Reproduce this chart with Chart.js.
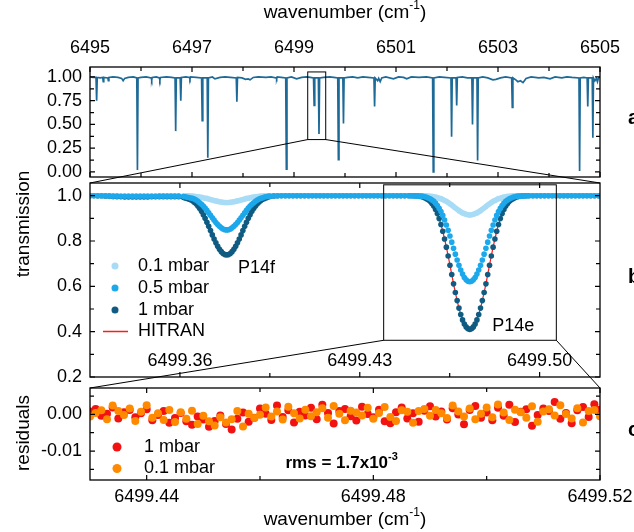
<!DOCTYPE html>
<html>
<head>
<meta charset="utf-8">
<script src="https://cdn.jsdelivr.net/npm/chart.js@4.4.1/dist/chart.umd.min.js"></script>
<style>
  html, body { margin: 0; padding: 0; background: #fff; }
  #fig { position: relative; width: 634px; height: 532px; overflow: hidden; background: #fff; }
  #fig canvas { position: absolute; left: 0; }
</style>
</head>
<body>
<div id="fig">
  <canvas id="chartA" width="634" height="182"></canvas>
  <canvas id="chartB" width="634" height="215"></canvas>
  <canvas id="chartC" width="634" height="149"></canvas>
  <canvas id="overlay" width="634" height="532" style="pointer-events:none"></canvas>
</div>
<script>
'use strict';

// ---- panel a: survey spectrum (wavenumber, transmission) ----
const specWn = [6495.00, 6495.06, 6495.118, 6495.13, 6495.142, 6495.20, 6495.25, 6495.26, 6495.27, 6495.35,
  6495.36, 6495.37, 6495.45, 6495.55, 6495.62, 6495.65, 6495.68, 6495.75, 6495.85, 6495.918,
  6495.93, 6495.942, 6496.00, 6496.10, 6496.20, 6496.21, 6496.22, 6496.30, 6496.36, 6496.37,
  6496.38, 6496.50, 6496.60, 6496.668, 6496.68, 6496.692, 6496.768, 6496.78, 6496.792, 6496.88,
  6496.95, 6496.96, 6496.97, 6497.08, 6497.188, 6497.20, 6497.212, 6497.298, 6497.31, 6497.322,
  6497.40, 6497.45, 6497.55, 6497.65, 6497.75, 6497.868, 6497.88, 6497.892, 6497.98, 6498.05,
  6498.10, 6498.14, 6498.20, 6498.30, 6498.45, 6498.55, 6498.65, 6498.66, 6498.67, 6498.75,
  6498.838, 6498.85, 6498.862, 6498.95, 6499.05, 6499.15, 6499.25, 6499.32, 6499.383, 6499.395,
  6499.407, 6499.478, 6499.49, 6499.502, 6499.58, 6499.70, 6499.78, 6499.858, 6499.87, 6499.882,
  6499.958, 6499.97, 6499.982, 6500.05, 6500.15, 6500.25, 6500.35, 6500.45, 6500.568, 6500.58,
  6500.592, 6500.64, 6500.66, 6500.69, 6500.72, 6500.80, 6500.95, 6501.05, 6501.15, 6501.21,
  6501.30, 6501.45, 6501.60, 6501.718, 6501.73, 6501.742, 6501.85, 6501.95, 6502.078, 6502.09,
  6502.102, 6502.178, 6502.19, 6502.202, 6502.30, 6502.40, 6502.488, 6502.50, 6502.512, 6502.588,
  6502.60, 6502.612, 6502.70, 6502.80, 6502.90, 6502.96, 6503.05, 6503.15, 6503.268, 6503.28,
  6503.292, 6503.35, 6503.39, 6503.44, 6503.49, 6503.55, 6503.65, 6503.80, 6503.90, 6504.02,
  6504.12, 6504.25, 6504.35, 6504.45, 6504.588, 6504.60, 6504.612, 6504.68, 6504.748, 6504.76,
  6504.772, 6504.848, 6504.86, 6504.872, 6504.90, 6504.93, 6504.95, 6504.97, 6505.00];
const specT = [1.000, 0.995, 0.995, 0.75, 0.995, 0.99, 0.995, 0.95, 0.995, 0.99,
  0.96, 0.995, 1.0, 0.995, 0.985, 0.96, 0.985, 0.995, 1.0, 0.99,
  0.02, 0.99, 0.995, 1.0, 0.99, 0.97, 0.995, 1.0, 0.99, 0.97,
  0.995, 1.0, 0.995, 0.99, 0.43, 0.99, 0.99, 0.75, 0.995, 1.0,
  0.995, 0.98, 1.0, 0.995, 0.99, 0.54, 0.99, 0.99, 0.15, 0.99,
  1.0, 0.98, 0.995, 1.0, 0.995, 0.99, 0.74, 0.995, 0.99, 0.975,
  0.98, 0.97, 0.995, 1.0, 0.995, 1.0, 0.99, 0.98, 1.0, 0.995,
  0.99, 0.03, 0.99, 1.0, 0.98, 0.995, 1.0, 0.995, 0.99, 0.70,
  0.99, 0.99, 0.40, 0.99, 0.995, 1.0, 0.995, 0.99, 0.13, 0.99,
  0.99, 0.51, 0.99, 0.995, 1.0, 0.99, 1.0, 0.995, 0.99, 0.69,
  0.99, 0.96, 0.985, 0.95, 0.99, 1.0, 0.98, 1.0, 0.995, 0.98,
  1.0, 0.995, 1.0, 0.99, 0.00, 0.99, 1.0, 0.995, 0.99, 0.37,
  0.99, 0.99, 0.70, 0.995, 1.0, 0.99, 0.99, 0.50, 0.99, 0.99,
  0.12, 0.99, 1.0, 0.99, 0.97, 0.975, 0.99, 1.0, 0.99, 0.68,
  0.99, 0.97, 0.95, 0.96, 0.94, 0.985, 1.0, 0.99, 0.995, 0.98,
  1.0, 0.99, 1.0, 0.995, 0.99, 0.01, 0.99, 0.995, 0.99, 0.69,
  0.99, 0.99, 0.36, 0.99, 0.96, 0.985, 0.95, 0.99, 1.0];

// ---- panel b: P14f / P14e profiles ----
const wnB = [
  // flat
  6499.3250, 6499.3265, 6499.3280, 6499.3295, 6499.3310, 6499.3325, 6499.3340, 6499.3355, 6499.3370, 6499.3385,
  6499.3400, 6499.3415, 6499.3430, 6499.3445, 6499.3460, 6499.3475, 6499.3490, 6499.3505, 6499.3520, 6499.3535,
  6499.3550, 6499.3565, 6499.3580, 6499.3595,
  // P14f
  6499.3614, 6499.3621, 6499.3628, 6499.3635, 6499.3642, 6499.3649, 6499.3656, 6499.3663, 6499.3670, 6499.3677,
  6499.3684, 6499.3691, 6499.3698, 6499.3705, 6499.3712, 6499.3719, 6499.3726, 6499.3733, 6499.3740, 6499.3747,
  6499.3754, 6499.3761, 6499.3768, 6499.3775, 6499.3782, 6499.3789, 6499.3796, 6499.3803, 6499.3810, 6499.3817,
  6499.3824, 6499.3831, 6499.3838, 6499.3845, 6499.3852, 6499.3859, 6499.3866, 6499.3873, 6499.3880, 6499.3887,
  6499.3894, 6499.3901, 6499.3908, 6499.3915, 6499.3922, 6499.3929, 6499.3936, 6499.3943, 6499.3950,
  // flat
  6499.3965, 6499.3980, 6499.3995, 6499.4010, 6499.4025, 6499.4040, 6499.4055, 6499.4070, 6499.4085, 6499.4100,
  6499.4115, 6499.4130, 6499.4145, 6499.4160, 6499.4175, 6499.4190, 6499.4205, 6499.4220, 6499.4235, 6499.4250,
  6499.4265, 6499.4280, 6499.4295, 6499.4310, 6499.4325, 6499.4340, 6499.4355, 6499.4370, 6499.4385, 6499.4400,
  6499.4415, 6499.4430, 6499.4445, 6499.4460, 6499.4475, 6499.4490,
  // P14e
  6499.4497, 6499.4504, 6499.4511, 6499.4518, 6499.4525, 6499.4532, 6499.4539, 6499.4546, 6499.4553, 6499.4560,
  6499.4567, 6499.4574, 6499.4581, 6499.4588, 6499.4595, 6499.4602, 6499.4609, 6499.4616, 6499.4623, 6499.4630,
  6499.4637, 6499.4644, 6499.4651, 6499.4658, 6499.4665, 6499.4672, 6499.4679, 6499.4686, 6499.4693, 6499.4700,
  6499.4707, 6499.4714, 6499.4721, 6499.4728, 6499.4735, 6499.4742, 6499.4749, 6499.4756, 6499.4763, 6499.4770,
  6499.4777, 6499.4784, 6499.4791, 6499.4798, 6499.4805, 6499.4812, 6499.4819, 6499.4826, 6499.4833, 6499.4840,
  6499.4847, 6499.4854, 6499.4861, 6499.4868, 6499.4875, 6499.4882, 6499.4889, 6499.4896, 6499.4903, 6499.4910,
  6499.4917, 6499.4924, 6499.4931, 6499.4938, 6499.4945, 6499.4952, 6499.4959,
  // flat
  6499.4974, 6499.4989, 6499.5004, 6499.5019, 6499.5034, 6499.5049, 6499.5064, 6499.5079, 6499.5094, 6499.5109,
  6499.5124, 6499.5139, 6499.5154, 6499.5169, 6499.5184, 6499.5199, 6499.5214, 6499.5229, 6499.5244];

const t01 = [
  1, 1, 1, 1, 1, 1, 1, 1, 1, 1, 1, 1, 1, 1, 1, 1, 1, 1, 1, 1, 1, 1, 1, 1,
  1.000, 0.999, 0.999, 0.999, 0.998, 0.998, 0.997, 0.996, 0.995, 0.994, 0.993, 0.991, 0.989, 0.988, 0.985, 0.983,
  0.981, 0.979, 0.977, 0.975, 0.973, 0.972, 0.971, 0.970, 0.970, 0.970, 0.971, 0.972, 0.973, 0.975, 0.977, 0.979,
  0.981, 0.983, 0.985, 0.988, 0.989, 0.991, 0.993, 0.994, 0.995, 0.996, 0.997, 0.998, 0.998, 0.999, 0.999, 0.999, 1.000,
  1, 1, 1, 1, 1, 1, 1, 1, 1, 1, 1, 1, 1, 1, 1, 1, 1, 1, 1, 1, 1, 1, 1, 1, 1, 1, 1, 1, 1, 1, 1, 1, 1, 1, 1, 1,
  1, 1, 1, 1, 1, 1, 1, 0.999, 0.999, 0.999, 0.998, 0.997, 0.997, 0.995, 0.994, 0.992, 0.989, 0.987, 0.983, 0.979,
  0.975, 0.970, 0.964, 0.959, 0.952, 0.946, 0.940, 0.934, 0.929, 0.924, 0.921, 0.918, 0.916, 0.915, 0.916, 0.918,
  0.921, 0.924, 0.929, 0.934, 0.940, 0.946, 0.952, 0.959, 0.964, 0.970, 0.975, 0.979, 0.983, 0.987, 0.989, 0.992,
  0.994, 0.995, 0.997, 0.997, 0.998, 0.999, 0.999, 0.999, 1, 1, 1, 1, 1, 1, 1,
  1, 1, 1, 1, 1, 1, 1, 1, 1, 1, 1, 1, 1, 1, 1, 1, 1, 1, 1];

const t05 = [
  1, 1, 1, 1, 0.999, 0.999, 0.998, 0.998, 0.997, 0.997, 0.997, 0.997, 0.997, 0.997, 0.997, 0.997, 0.997, 0.997,
  0.998, 0.998, 0.998, 0.998, 0.998, 0.998,
  0.996, 0.995, 0.993, 0.992, 0.990, 0.989, 0.985, 0.981, 0.975, 0.969, 0.962, 0.954, 0.945, 0.935, 0.924, 0.914,
  0.903, 0.892, 0.882, 0.873, 0.865, 0.858, 0.853, 0.850, 0.849, 0.850, 0.853, 0.858, 0.865, 0.873, 0.882, 0.892,
  0.903, 0.914, 0.924, 0.935, 0.945, 0.954, 0.962, 0.969, 0.975, 0.981, 0.985, 0.989, 0.991, 0.994, 0.995, 0.997, 0.998,
  0.999, 1, 1, 1, 1, 1, 1, 1, 1, 1, 1, 1, 1, 1, 1, 1, 1, 1, 1, 1, 1, 1, 1, 1, 1, 1, 1, 1, 1, 1, 1, 1, 1, 1, 1, 1,
  1, 1, 1, 0.999, 0.999, 0.998, 0.998, 0.997, 0.995, 0.993, 0.990, 0.986, 0.981, 0.975, 0.967, 0.957, 0.944, 0.930,
  0.913, 0.893, 0.871, 0.847, 0.822, 0.795, 0.768, 0.742, 0.716, 0.693, 0.672, 0.654, 0.639, 0.629, 0.622, 0.620,
  0.622, 0.629, 0.639, 0.654, 0.672, 0.693, 0.716, 0.742, 0.768, 0.795, 0.822, 0.847, 0.871, 0.893, 0.913, 0.930,
  0.944, 0.957, 0.967, 0.975, 0.981, 0.986, 0.990, 0.993, 0.995, 0.997, 0.998, 0.998, 0.999, 0.999, 1, 1, 1,
  1, 1, 1, 1, 1, 1, 1, 1, 1, 1, 1, 1, 1, 1, 1, 1, 1, 1, 1];

const t1 = [
  1, 1, 0.999, 0.999, 0.998, 0.997, 0.996, 0.995, 0.995, 0.994, 0.994, 0.994, 0.994, 0.994, 0.994, 0.994,
  0.995, 0.995, 0.995, 0.995, 0.995, 0.995, 0.995, 0.995,
  0.992, 0.990, 0.988, 0.985, 0.982, 0.978, 0.971, 0.964, 0.955, 0.944, 0.931, 0.916, 0.900, 0.883, 0.865, 0.846,
  0.827, 0.809, 0.792, 0.777, 0.764, 0.753, 0.745, 0.740, 0.739, 0.740, 0.745, 0.753, 0.764, 0.777, 0.792, 0.809,
  0.827, 0.846, 0.865, 0.883, 0.900, 0.916, 0.931, 0.944, 0.955, 0.964, 0.972, 0.979, 0.984, 0.988, 0.991, 0.994, 0.996,
  0.998, 0.999, 1, 1, 1, 1, 1, 1, 1, 1, 1, 1, 1, 1, 1, 1, 1, 1, 1, 1, 1, 1, 1, 1, 1, 1, 1, 1, 1, 1, 1, 1, 1, 1, 1, 1,
  1, 1, 0.999, 0.999, 0.998, 0.997, 0.996, 0.994, 0.991, 0.987, 0.982, 0.975, 0.966, 0.954, 0.939, 0.921, 0.899,
  0.873, 0.843, 0.809, 0.773, 0.734, 0.693, 0.652, 0.611, 0.573, 0.537, 0.504, 0.476, 0.452, 0.434, 0.421, 0.413,
  0.410, 0.413, 0.421, 0.434, 0.452, 0.476, 0.504, 0.537, 0.573, 0.611, 0.652, 0.693, 0.734, 0.773, 0.809, 0.843,
  0.873, 0.899, 0.921, 0.939, 0.954, 0.966, 0.975, 0.982, 0.987, 0.991, 0.994, 0.996, 0.997, 0.998, 0.999, 0.999, 1, 1,
  1, 1, 1, 1, 1, 1, 1, 1, 1, 1, 1, 1, 1, 1, 1, 1, 1, 1, 1];

const hitranWn = [6499.4504, 6499.4518, 6499.4532, 6499.4546, 6499.4560, 6499.4574, 6499.4588, 6499.4602, 6499.4616,
  6499.4630, 6499.4644, 6499.4658, 6499.4672, 6499.4686, 6499.4700, 6499.4714, 6499.4728, 6499.4742, 6499.4756,
  6499.4770, 6499.4784, 6499.4798, 6499.4812, 6499.4826, 6499.4840, 6499.4854, 6499.4868, 6499.4882, 6499.4896,
  6499.4910, 6499.4924, 6499.4938, 6499.4952];
const hitranT = [1.000, 0.999, 0.997, 0.994, 0.987, 0.975, 0.954, 0.921, 0.873, 0.809, 0.734, 0.652, 0.573, 0.504,
  0.452, 0.421, 0.410, 0.421, 0.452, 0.504, 0.573, 0.652, 0.734, 0.809, 0.873, 0.921, 0.954, 0.975, 0.987, 0.994,
  0.997, 0.999, 1.000];

// ---- panel c: fit residuals ----
const wnC = [6499.430, 6499.431, 6499.432, 6499.433, 6499.434, 6499.435, 6499.436, 6499.437, 6499.438, 6499.439,
  6499.440, 6499.441, 6499.442, 6499.443, 6499.444, 6499.445, 6499.446, 6499.447, 6499.448, 6499.449,
  6499.450, 6499.451, 6499.452, 6499.453, 6499.454, 6499.455, 6499.456, 6499.457, 6499.458, 6499.459,
  6499.460, 6499.461, 6499.462, 6499.463, 6499.464, 6499.465, 6499.466, 6499.467, 6499.468, 6499.469,
  6499.470, 6499.471, 6499.472, 6499.473, 6499.474, 6499.475, 6499.476, 6499.477, 6499.478, 6499.479,
  6499.480, 6499.481, 6499.482, 6499.483, 6499.484, 6499.485, 6499.486, 6499.487, 6499.488, 6499.489,
  6499.490, 6499.491, 6499.492, 6499.493, 6499.494, 6499.495, 6499.496, 6499.497, 6499.498, 6499.499,
  6499.500, 6499.501, 6499.502, 6499.503, 6499.504, 6499.505, 6499.506, 6499.507, 6499.508, 6499.509,
  6499.510, 6499.511, 6499.512, 6499.513, 6499.514, 6499.515, 6499.516, 6499.517, 6499.518, 6499.519,
  6499.520];
const res1 = [0.0008, 0.0015, -0.0004, 0.0002, 0.0019, -0.0011, 0.0006, 0.0012, -0.0008, 0.0003,
  0.0014, -0.0016, -0.0002, 0.0009, -0.0023, -0.0010, 0.0004, -0.0019, -0.0028, -0.0006,
  -0.0014, -0.0034, -0.0018, -0.0003, -0.0026, -0.0041, -0.0012, 0.0005, -0.0020, -0.0009,
  0.0016, 0.0002, -0.0015, 0.0024, -0.0007, 0.0011, -0.0022, 0.0007, -0.0003, 0.0018,
  -0.0013, 0.0026, 0.0004, -0.0025, 0.0009, 0.0015, -0.0005, -0.0017, 0.0021, 0.0001,
  -0.0008, 0.0013, -0.0019, -0.0024, 0.0006, 0.0019, -0.0011, 0.0003, -0.0020, 0.0010,
  0.0022, -0.0006, 0.0008, -0.0014, 0.0017, 0.0000, -0.0027, 0.0012, 0.0023, -0.0009,
  0.0005, -0.0016, 0.0018, -0.0004, 0.0026, -0.0021, 0.0007, 0.0014, -0.0031, -0.0002,
  0.0016, 0.0009, 0.0034, -0.0012, 0.0004, -0.0024, 0.0011, 0.0020, -0.0007, 0.0028,
  0.0013];
const res01 = [-0.0006, 0.0004, 0.0011, -0.0013, 0.0024, 0.0009, -0.0002, 0.0016, -0.0018, 0.0007,
  0.0025, -0.0009, 0.0003, -0.0015, 0.0012, -0.0021, 0.0006, -0.0012, 0.0010, -0.0026,
  -0.0004, -0.0019, -0.0030, -0.0008, -0.0022, -0.0013, 0.0009, -0.0033, 0.0002, -0.0010,
  -0.0001, 0.0019, -0.0006, 0.0008, -0.0014, 0.0021, 0.0003, -0.0011, 0.0013, -0.0005,
  0.0006, 0.0017, -0.0009, 0.0023, 0.0002, -0.0016, 0.0010, 0.0005, -0.0003, 0.0018,
  -0.0012, 0.0004, 0.0020, -0.0007, -0.0018, 0.0011, 0.0007, -0.0023, 0.0009, 0.0015,
  -0.0004, 0.0012, 0.0003, -0.0010, 0.0024, 0.0008, -0.0006, 0.0016, -0.0013, 0.0002,
  0.0019, -0.0008, 0.0027, 0.0005, -0.0015, 0.0013, 0.0006, -0.0009, 0.0022, -0.0020,
  0.0008, 0.0014, -0.0003, 0.0025, 0.0001, -0.0011, 0.0017, -0.0022, 0.0009, 0.0012,
  -0.0005];

// ---- ticks ----
const ticksAx = [6495, 6497, 6499, 6501, 6503, 6505], minorAx = [6496, 6498, 6500, 6502, 6504];
const ticksAy = [0, 0.25, 0.5, 0.75, 1], minorAy = [0.125, 0.375, 0.625, 0.875];
const ticksBx = [6499.36, 6499.43, 6499.50], minorBx = [6499.395, 6499.465];
const ticksBy = [0.2, 0.4, 0.6, 0.8, 1.0], minorBy = [0.3, 0.5, 0.7, 0.9];
const ticksCx = [6499.44, 6499.48, 6499.52], minorCx = [6499.46, 6499.50];
const ticksCy = [0, -0.01], minorCy = [0.005, -0.005, -0.015];

// zoomed windows: [x0, x1, y0, y1]
const zoomA = [6499.269, 6499.622, 0.341, 1.053];
const zoomB = [6499.4393, 6499.5065, 0.362, 1.048];

// canvas offsets inside the figure
const TOP_A = 0, TOP_B = 178, TOP_C = 383;

const FONT = '"Liberation Sans", Arial, Helvetica, sans-serif';
Chart.defaults.font.family = FONT;
Chart.defaults.font.size = 18;
Chart.defaults.color = '#000';

document.getElementById('chartA').style.top = TOP_A + 'px';
document.getElementById('chartB').style.top = TOP_B + 'px';
document.getElementById('chartC').style.top = TOP_C + 'px';
document.getElementById('overlay').style.top = '0px';

function pts(xs, ys) {
  return xs.map((x, i) => ({ x: x, y: ys[i] }));
}

// draws "base" + superscript + "tail"
function supText(ctx, x, y, base, sup, tail, size, bold, align) {
  const w = bold ? 'bold ' : '';
  const big = w + size + 'px ' + FONT, small = w + Math.round(size * 0.65) + 'px ' + FONT;
  ctx.font = big;
  const w1 = ctx.measureText(base).width, w3 = ctx.measureText(tail).width;
  ctx.font = small;
  const w2 = ctx.measureText(sup).width;
  let cx = align === 'left' ? x : x - (w1 + w2 + w3) / 2;
  ctx.textAlign = 'left';
  ctx.textBaseline = 'middle';
  ctx.font = big; ctx.fillText(base, cx, y); cx += w1;
  ctx.font = small; ctx.fillText(sup, cx, y - size * 0.38); cx += w2;
  ctx.font = big; ctx.fillText(tail, cx, y);
}

// box + inward ticks on all four sides
const framePlugin = {
  id: 'frame',
  afterDraw(chart, args, o) {
    const ctx = chart.ctx, a = chart.chartArea;
    const sx = chart.scales.x, sy = chart.scales.y;
    ctx.save();
    ctx.strokeStyle = '#000';
    ctx.lineWidth = 1.2;
    ctx.beginPath();
    const xm = (vals, len) => vals.forEach(v => {
      const p = sx.getPixelForValue(v);
      if (p < a.left - 1 || p > a.right + 1) return;
      ctx.moveTo(p, a.bottom); ctx.lineTo(p, a.bottom - len);
      ctx.moveTo(p, a.top); ctx.lineTo(p, a.top + len);
    });
    const ym = (vals, len) => vals.forEach(v => {
      const p = sy.getPixelForValue(v);
      if (p < a.top - 1 || p > a.bottom + 1) return;
      ctx.moveTo(a.left, p); ctx.lineTo(a.left + len, p);
      ctx.moveTo(a.right, p); ctx.lineTo(a.right - len, p);
    });
    xm(o.xMajor, 5); xm(o.xMinor, 4);
    ym(o.yMajor, 5); ym(o.yMinor, 4);
    ctx.stroke();
    ctx.lineWidth = 1.3;
    ctx.strokeRect(a.left, a.top, a.right - a.left, a.bottom - a.top);
    ctx.restore();
  }
};

const boxPlugin = {
  id: 'zoomBox',
  afterDatasetsDraw(chart, args, o) {
    if (!o.win) return;
    const ctx = chart.ctx, sx = chart.scales.x, sy = chart.scales.y;
    const [x0, x1, y0, y1] = o.win;
    ctx.save();
    ctx.strokeStyle = '#000';
    ctx.lineWidth = 1;
    const l = sx.getPixelForValue(x0), r = sx.getPixelForValue(x1);
    const t = sy.getPixelForValue(y1), b = sy.getPixelForValue(y0);
    ctx.strokeRect(l, t, r - l, b - t);
    ctx.restore();
  }
};

const legendPlugin = {
  id: 'inLegend',
  afterDraw(chart, args, o) {
    if (!o.rows) return;
    const ctx = chart.ctx;
    ctx.save();
    ctx.font = '18px ' + FONT;
    ctx.textBaseline = 'middle';
    ctx.textAlign = 'left';
    chart.data.datasets.forEach((ds, i) => {
      const y = o.rows[i];
      if (ds.type === 'line') {
        ctx.strokeStyle = ds.borderColor;
        ctx.lineWidth = 1.5;
        ctx.beginPath(); ctx.moveTo(o.symX - 12, y); ctx.lineTo(o.symX + 13, y); ctx.stroke();
      } else {
        ctx.fillStyle = ds.backgroundColor;
        ctx.beginPath(); ctx.arc(o.symX, y, o.r, 0, Math.PI * 2); ctx.fill();
      }
      ctx.fillStyle = '#000';
      ctx.fillText(ds.label, o.textX, y);
    });
    ctx.restore();
  }
};

const notePlugin = {
  id: 'notes',
  afterDraw(chart, args, o) {
    const ctx = chart.ctx, sx = chart.scales.x, sy = chart.scales.y, a = chart.chartArea;
    ctx.save();
    ctx.fillStyle = '#000';
    ctx.textBaseline = 'middle';
    (o.items || []).forEach(n => {
      const x = sx.getPixelForValue(n.x), y = sy.getPixelForValue(n.y);
      if (n.sup) {
        supText(ctx, x, y, n.text, n.sup, '', n.size || 18, n.bold, 'left');
      } else {
        ctx.font = (n.bold ? 'bold ' : '') + (n.size || 18) + 'px ' + FONT;
        ctx.textAlign = 'left';
        ctx.fillText(n.text, x, y);
      }
    });
    // tick labels drawn inside the plot (panel b)
    if (o.xLabels) {
      ctx.font = '18px ' + FONT;
      ctx.textAlign = 'center';
      o.xLabels.forEach(v => ctx.fillText(v.toFixed(2), sx.getPixelForValue(v), a.bottom - 15.5));
    }
    ctx.restore();
  }
};

// no extra room for half tick labels at the ends of an axis
function noPad(s) {
  s.paddingTop = 0; s.paddingBottom = 0; s.paddingLeft = 0; s.paddingRight = 0;
}

function yAxis(min, max, ticks, digits) {
  return {
    type: 'linear', min: min, max: max,
    grid: { display: false, drawTicks: false },
    border: { display: false },
    ticks: { padding: 8, autoSkip: false, callback: v => v.toFixed(digits) },
    afterBuildTicks: s => { s.ticks = ticks.map(v => ({ value: v })); },
    afterFit: s => { s.width = 90; noPad(s); }
  };
}

const plugins = [framePlugin, boxPlugin, legendPlugin, notePlugin];

// ---- panel a ----
const chartA = new Chart(document.getElementById('chartA'), {
  type: 'line',
  data: {
    datasets: [{
      data: pts(specWn, specT),
      borderColor: '#1d6a98',
      borderWidth: 1.7,
      pointRadius: 0,
      tension: 0
    }]
  },
  options: {
    responsive: false,
    animation: false,
    events: [],
    devicePixelRatio: 1,
    layout: { padding: { left: 0, right: 34, top: 0, bottom: 5 } },
    scales: {
      x: {
        type: 'linear', position: 'top', min: 6495, max: 6505,
        grid: { display: false, drawTicks: false },
        border: { display: false },
        ticks: { padding: 8, autoSkip: false, maxRotation: 0, callback: v => String(v) },
        afterBuildTicks: s => { s.ticks = ticksAx.map(v => ({ value: v })); },
        afterFit: s => { s.height = 67; noPad(s); }
      },
      y: yAxis(-0.053, 1.105, ticksAy, 2)
    },
    plugins: {
      legend: { display: false },
      tooltip: { enabled: false },
      frame: { xMajor: ticksAx, xMinor: minorAx, yMajor: ticksAy, yMinor: minorAy },
      zoomBox: { win: zoomA },
      inLegend: {},
      notes: {}
    }
  },
  plugins: plugins
});

// ---- panel b ----
const chartB = new Chart(document.getElementById('chartB'), {
  type: 'scatter',
  data: {
    datasets: [
      { label: '0.1 mbar', data: pts(wnB, t01), backgroundColor: '#a8dcf6', borderColor: '#a8dcf6', order: 2 },
      { label: '0.5 mbar', data: pts(wnB, t05), backgroundColor: '#1ca8eb', borderColor: '#1ca8eb', order: 1 },
      { label: '1 mbar', data: pts(wnB, t1), backgroundColor: '#0f5b82', borderColor: '#0f5b82', order: 3 },
      { label: 'HITRAN', type: 'line', data: pts(hitranWn, hitranT), borderColor: '#ff1a1a', borderWidth: 1.2,
        pointRadius: 0, showLine: true, cubicInterpolationMode: 'monotone', order: 4 }
    ]
  },
  options: {
    responsive: false,
    animation: false,
    events: [],
    devicePixelRatio: 1,
    layout: { padding: { left: 0, right: 34, top: 5, bottom: 16 } },
    elements: { point: { radius: 2.8, borderWidth: 0, hoverRadius: 0 } },
    scales: {
      x: { type: 'linear', display: false, min: 6499.325, max: 6499.5235 },
      y: yAxis(0.2, 1.056, ticksBy, 1)
    },
    plugins: {
      legend: { display: false },
      tooltip: { enabled: false },
      frame: { xMajor: ticksBx, xMinor: minorBx, yMajor: ticksBy, yMinor: minorBy },
      zoomBox: { win: zoomB },
      inLegend: { rows: [88, 110, 132, 153.5], symX: 115, textX: 138, r: 3.5 },
      notes: {
        items: [
          { text: 'P14f', x: 6499.3826, y: 0.681 },
          { text: 'P14e', x: 6499.4816, y: 0.426 }
        ],
        xLabels: ticksBx
      }
    }
  },
  plugins: plugins
});

// ---- panel c ----
const chartC = new Chart(document.getElementById('chartC'), {
  type: 'scatter',
  data: {
    datasets: [
      { label: '1 mbar', data: pts(wnC, res1), backgroundColor: '#f21212', borderColor: '#f21212', order: 2 },
      { label: '0.1 mbar', data: pts(wnC, res01), backgroundColor: '#ff8a00', borderColor: '#ff8a00', order: 1 }
    ]
  },
  options: {
    responsive: false,
    animation: false,
    events: [],
    devicePixelRatio: 1,
    layout: { padding: { left: 0, right: 34, top: 5, bottom: 0 } },
    elements: { point: { radius: 4, borderWidth: 0, hoverRadius: 0 } },
    scales: {
      x: {
        type: 'linear', position: 'bottom', min: 6499.43, max: 6499.52,
        grid: { display: false, drawTicks: false },
        border: { display: false },
        ticks: { padding: 6, autoSkip: false, maxRotation: 0, callback: v => v.toFixed(2) },
        afterBuildTicks: s => { s.ticks = ticksCx.map(v => ({ value: v })); },
        afterFit: s => { s.height = 52; noPad(s); }
      },
      y: yAxis(-0.0179, 0.0072, ticksCy, 2)
    },
    plugins: {
      legend: { display: false },
      tooltip: { enabled: false },
      frame: { xMajor: ticksCx, xMinor: minorCx, yMajor: ticksCy, yMinor: minorCy },
      zoomBox: {},
      inLegend: { rows: [64, 85.5], symX: 117, textX: 144, r: 4.5 },
      notes: {
        items: [{ text: 'rms = 1.7x10', sup: '-3', x: 6499.4645, y: -0.0134, size: 17, bold: true }]
      }
    }
  },
  plugins: plugins
});

// ---- figure-level overlay: connectors, titles, panel letters ----
const ov = document.getElementById('overlay').getContext('2d');

function px(chart, top, xv, yv) {
  return [chart.scales.x.getPixelForValue(xv), top + chart.scales.y.getPixelForValue(yv)];
}
function seg(p, q) {
  ov.beginPath(); ov.moveTo(p[0], p[1]); ov.lineTo(q[0], q[1]); ov.stroke();
}

ov.strokeStyle = '#000';
ov.lineWidth = 1;
const aB = chartB.chartArea, aC = chartC.chartArea;
seg(px(chartA, TOP_A, zoomA[0], zoomA[2]), [aB.left, TOP_B + aB.top]);
seg(px(chartA, TOP_A, zoomA[1], zoomA[2]), [aB.right, TOP_B + aB.top]);
seg(px(chartB, TOP_B, zoomB[0], zoomB[2]), [aC.left, TOP_C + aC.top]);
seg(px(chartB, TOP_B, zoomB[1], zoomB[2]), [aC.right, TOP_C + aC.top]);

ov.fillStyle = '#000';
const midX = (aB.left + aB.right) / 2;
supText(ov, midX, 13, 'wavenumber (cm', '-1', ')', 19, false, 'center');
supText(ov, midX, 520, 'wavenumber (cm', '-1', ')', 19, false, 'center');

ov.save();
ov.font = '19px ' + FONT;
ov.textAlign = 'center';
ov.textBaseline = 'middle';
ov.translate(24, 224); ov.rotate(-Math.PI / 2); ov.fillText('transmission', 0, 0);
ov.restore();
ov.save();
ov.font = '19px ' + FONT;
ov.textAlign = 'center';
ov.textBaseline = 'middle';
ov.translate(24, 433); ov.rotate(-Math.PI / 2); ov.fillText('residuals', 0, 0);
ov.restore();

ov.font = 'bold 20px ' + FONT;
ov.textAlign = 'left';
ov.textBaseline = 'middle';
ov.fillText('a', 628, 118);
ov.fillText('b', 628, 277);
ov.fillText('c', 628, 430);
</script>
</body>
</html>
